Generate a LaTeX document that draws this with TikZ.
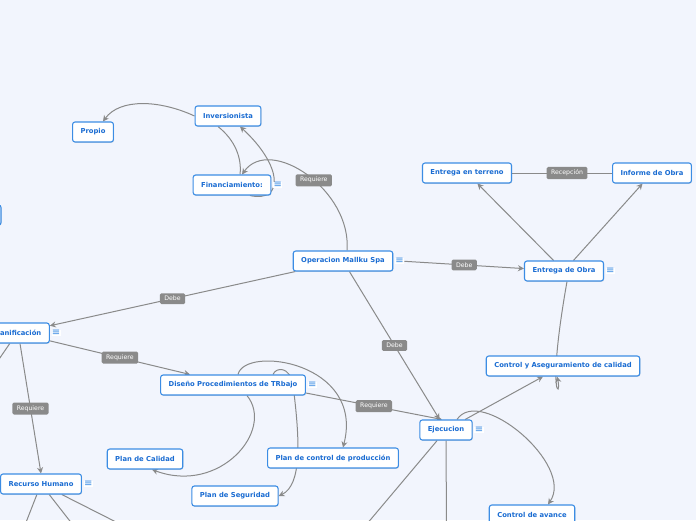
\documentclass[tikz,border=0pt]{standalone}
\usepackage{fontspec}
\setmainfont{DejaVu Sans}
\usepackage{xcolor}
\usepackage{tikz}
\usetikzlibrary{arrows.meta, positioning, shadows, backgrounds}
\definecolor{myblue}{HTML}{3C8DE4}
\definecolor{mytext}{HTML}{1A6CD2}
\definecolor{mygray}{HTML}{8A8A8A}
\definecolor{mypaper}{HTML}{F2F5FD}
\pgfdeclarelayer{paper}
\pgfsetlayers{paper,background,main}
\tikzstyle{link} = [draw=mygray, line width=1pt, ->, >={Stealth[length=6pt,width=6pt]}]
\tikzstyle{wire} = [draw=mygray, line width=1pt]
\tikzstyle{tag} = [fill=mygray, text=white, rounded corners=1.5pt, inner xsep=4.5pt, inner ysep=3pt, font=\fontsize{6.2}{7}\selectfont]

\begin{document}
\begin{tikzpicture}[
    x=1pt, y=-1pt,
    box/.style={
        rectangle,
        rounded corners=2.5pt,
        minimum height=20pt,
        inner xsep=8pt,
        text=mytext,
        font=\bfseries\fontsize{6.8}{8}\selectfont,
        draw=myblue,
        line width=1.1pt,
        fill=white,
        drop shadow={shadow xshift=0.6pt, shadow yshift=-0.8pt, opacity=0.25}
    },
    menu/.style={
        text=myblue,
        fill=white,
        inner sep=0.4pt,
        font=\fontsize{10}{10}\selectfont
    }
]
    \useasboundingbox (0,0) rectangle (696,520);
    \begin{pgfonlayer}{paper}
        \fill[mypaper] (0,0) rectangle (696,520);
    \end{pgfonlayer}

    \node[box] (investor) at (228,116) {Inversionista};
    \node[box] (own) at (93,132) {Propio};
    \node[box] (financing) at (232,185) {Financiamiento:};
    \node[menu, right=1.5pt of financing] (financingmenu) {≡};

    \node[box] (operation) at (343,261) {Operacion Mallku Spa};
    \node[menu, right=1.5pt of operation] (operationmenu) {≡};

    \node[box] (terrain) at (467,173) {Entrega en terreno};
    \node[box] (report) at (652,173) {Informe de Obra};
    \node[box] (delivery) at (564,271) {Entrega de Obra};
    \node[menu, right=1.5pt of delivery] (deliverymenu) {≡};

    \node[box] (planning) at (17,333) {Planificación};
    \node[menu, right=1.5pt of planning] (planningmenu) {≡};
    \node[box, minimum width=80pt] (hidden) at (-39,215) {};

    \node[box] (design) at (233,385) {Diseño Procedimientos de TRbajo};
    \node[menu, right=1.5pt of design] (designmenu) {≡};

    \node[box] (execution) at (446,430) {Ejecucion};
    \node[menu, right=1.5pt of execution] (executionmenu) {≡};

    \node[box] (quality) at (563,366) {Control y Aseguramiento de calidad};
    \node[box] (progress) at (532,515) {Control de avance};

    \node[box] (qplan) at (145,459) {Plan de Calidad};
    \node[box] (production) at (333,458) {Plan de control de producción};
    \node[box] (safety) at (235,496) {Plan de Seguridad};

    \node[box] (staff) at (41,484) {Recurso Humano};
    \node[menu, right=1.5pt of staff] (staffmenu) {≡};

    \coordinate (offwest) at (-5,365);
    \coordinate (offsouthA) at (25,525);
    \coordinate (offsouthB) at (73,525);
    \coordinate (offsouthC) at (120,524);
    \coordinate (offdown) at (446.5,525);
    \coordinate (offleft) at (366,525);

    \begin{scope}[on background layer]
        \draw[link] (investor.west) .. controls (160,100) and (120,98) .. ([xshift=10pt]own.north);
        \draw[wire] ([xshift=-10pt]investor.south) .. controls (235,140) and (242,158) .. ([xshift=8pt]financing.north);
        \draw[link] ([xshift=18pt]financing.south) .. controls (285,203) and (282,165) .. ([xshift=12pt]investor.south);
        \draw[link] ([xshift=4pt]operation.north) .. controls (352,190) and (270,135)
            .. node[tag, pos=0.45] {Requiere} ([xshift=10pt]financing.north);

        \draw[link] (operationmenu) -- node[tag] {Debe} (delivery);
        \draw[link] (operation) -- node[tag] {Debe} (planning);
        \draw[link] (operation) -- node[tag] {Debe} (execution);

        \draw[link] (delivery) -- (terrain);
        \draw[link] (delivery) -- (report);
        \draw[wire] (terrain) -- node[tag, pos=0.55] {Recepción} (report);
        \draw[link] ([xshift=3pt]delivery.south) .. controls (546,400) and (562,398) .. ([xshift=-6pt]quality.south);

        \draw[link] (execution) -- ([xshift=-20pt]quality.south);
        \draw[link] ([xshift=11pt]execution.north) .. controls (480,385) and (575,465) .. ([xshift=16pt]progress.north);
        \draw[wire] (execution.south) -- (offdown);
        \draw[wire] (execution) -- (offleft);

        \draw[link] ([yshift=-8pt]design.east) -- node[tag] {Requiere} ([xshift=-4pt]execution.north);
        \draw[link] (planning) -- node[tag] {Requiere} ([xshift=-43pt]design.north);
        \draw[link] ([xshift=3pt]planning.south) -- node[tag] {Requiere} (staff.north);
        \draw[wire] (planning) -- (offwest);

        \draw[wire] (staff) -- (offsouthA);
        \draw[wire] (staff) -- (offsouthB);
        \draw[wire] (staff) -- (offsouthC);

        \draw[link] ([xshift=14pt]design.south) .. controls (275,430) and (220,495) .. ([xshift=7pt]qplan.south);
        \draw[link] ([xshift=5pt]design.north) .. controls (245,345) and (365,362) .. ([xshift=10pt]production.north);
        \draw[link] ([xshift=40pt]design.north) .. controls (276,367) and (290,366) .. (293,385)
            .. controls (300,440) and (302,485) .. (safety.east);
    \end{scope}
\end{tikzpicture}
\end{document}
